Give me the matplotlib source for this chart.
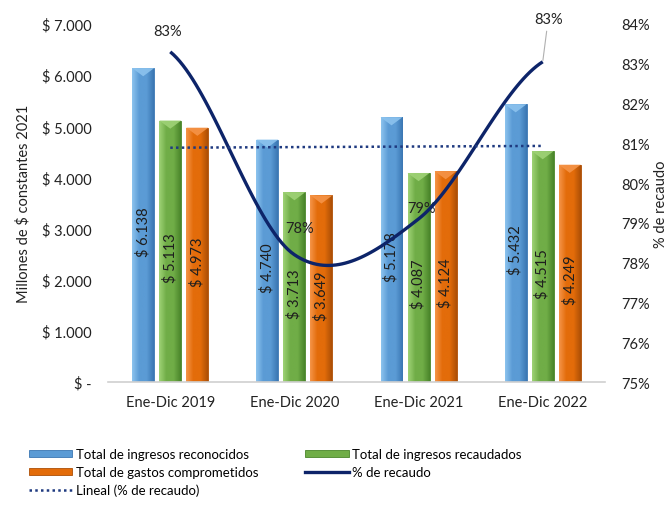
import numpy as np
import matplotlib
matplotlib.use('Agg')
import matplotlib.pyplot as plt
from matplotlib.colors import LinearSegmentedColormap
from matplotlib.patches import Patch, Polygon
from matplotlib.lines import Line2D
from matplotlib.ticker import FuncFormatter

plt.rcParams['font.family'] = ['Lato', 'DejaVu Sans']

# datos
periodos = ['Ene-Dic 2019', 'Ene-Dic 2020', 'Ene-Dic 2021', 'Ene-Dic 2022']
ingresos_reconocidos = [6138, 4740, 5178, 5432]
ingresos_recaudados = [5113, 3713, 4087, 4515]
gastos_comprometidos = [4973, 3649, 4124, 4249]
pct_recaudo = [83.3, 78.2, 79.1, 83.05]
pct_labels = ['83%', '78%', '79%', '83%']

series = [
    ('Total de ingresos reconocidos', ingresos_reconocidos, ('#8cc3ee', '#5b9bd5', '#3b77b3')),
    ('Total de ingresos recaudados', ingresos_recaudados, ('#9fd276', '#70ad47', '#4a852a')),
    ('Total de gastos comprometidos', gastos_comprometidos, ('#f59448', '#e36c0a', '#ad4f06')),
]


def fmt_pesos(v, pos=None):
    if v == 0:
        return '$ -'
    return '$ ' + f'{v:,.0f}'.replace(',', '.')


def smooth(xs, ys, n=40):
    # curva suavizada tipo Excel (Catmull-Rom)
    xs = np.asarray(xs, float)
    ys = np.asarray(ys, float)
    m = np.zeros_like(ys)
    m[1:-1] = (ys[2:] - ys[:-2]) / 2
    m[0] = (ys[1] - ys[0]) * 0.5
    m[-1] = (ys[-1] - ys[-2]) * 0.5
    out_x, out_y = [], []
    for i in range(len(xs) - 1):
        t = np.linspace(0, 1, n)
        h00 = 2 * t**3 - 3 * t**2 + 1
        h10 = t**3 - 2 * t**2 + t
        h01 = -2 * t**3 + 3 * t**2
        h11 = t**3 - t**2
        out_x.append(xs[i] + t * (xs[i + 1] - xs[i]))
        out_y.append(h00 * ys[i] + h10 * m[i] + h01 * ys[i + 1] + h11 * m[i + 1])
    return np.concatenate(out_x), np.concatenate(out_y)


fig = plt.figure(figsize=(6.72, 5.10), dpi=100)
ax = fig.add_axes([0.161, 0.249, 0.739, 0.702])

x = np.arange(len(periodos))
width = 0.177
step = 0.218
legend_handles = {}

for i, (name, vals, (c_light, c_mid, c_dark)) in enumerate(series):
    pos = x + (i - 1) * step
    bars = ax.bar(pos, vals, width, color=c_mid, edgecolor=c_dark, linewidth=0.6, zorder=2)
    cmap = LinearSegmentedColormap.from_list('g', [c_light, c_mid, c_mid, c_dark])
    grad = np.linspace(0, 1, 64).reshape(1, -1)
    for b, v in zip(bars, vals):
        bx, bw = b.get_x(), b.get_width()
        im = ax.imshow(grad, cmap=cmap, extent=[bx, bx + bw, 0, v], aspect='auto', zorder=2.1)
        im.set_clip_path(b)
        # bisel superior
        tri = Polygon([[bx, v], [bx + bw, v], [bx + bw / 2, v - 160]], closed=True,
                      facecolor=c_light, edgecolor='none', alpha=0.9, zorder=2.2)
        ax.add_patch(tri)
        ax.text(bx + bw / 2, v / 2 - 120, fmt_pesos(v), rotation=90, ha='center', va='center',
                fontsize=10.5, color='#1e1e1e', zorder=3)
    legend_handles[name] = Patch(facecolor=c_mid, edgecolor=c_dark, linewidth=0.6)

ax.set_xlim(-0.5, 3.5)
ax.set_ylim(0, 7000)
ax.set_yticks(np.arange(0, 7001, 1000))
ax.yaxis.set_major_formatter(FuncFormatter(fmt_pesos))
ax.set_xticks(x)
ax.set_xticklabels(periodos)
ax.tick_params(axis='y', length=0, pad=12, labelsize=10.5, colors='#222222')
ax.tick_params(axis='x', length=0, pad=9, labelsize=10.5, colors='#222222')
for s in ['top', 'left', 'right']:
    ax.spines[s].set_visible(False)
ax.spines['bottom'].set_color('#d0d0d0')
ax.spines['bottom'].set_linewidth(1.2)
ax.set_ylabel('Millones de $ constantes 2021', fontsize=10.5, color='#222222', labelpad=8)

# eje secundario
ax2 = ax.twinx()
ax2.set_ylim(75, 84)
ax2.set_yticks(np.arange(75, 84.1, 1))
ax2.yaxis.set_major_formatter(FuncFormatter(lambda v, p: f'{v:.0f}%'))
ax2.tick_params(axis='y', length=0, pad=12, labelsize=10.5, colors='#222222')
for s in ['top', 'left', 'right', 'bottom']:
    ax2.spines[s].set_visible(False)
ax2.set_ylabel('% de recaudo', fontsize=10.5, color='#222222', labelpad=3)

sx, sy = smooth(x, pct_recaudo)
ax2.plot(sx, sy, color='#0d2469', lw=2.4, zorder=4, solid_capstyle='butt')

coef = np.polyfit(x, pct_recaudo, 1)
ax2.plot(x[[0, -1]], np.polyval(coef, x[[0, -1]]), color='#1f3a80', lw=1.8,
         linestyle=(0, (1, 1.3)), zorder=4)

offsets = [(-2, 10), (4, 14), (2, 3), (4, 26)]
for xi, yi, lab, off in zip(x, pct_recaudo, pct_labels, offsets):
    props = None
    if off[1] > 20:
        props = dict(arrowstyle='-', color='#b0b0b0', lw=0.8, shrinkA=2, shrinkB=1)
    ax2.annotate(lab, (xi, yi), xytext=off, textcoords='offset points', ha='center',
                 va='bottom', fontsize=10.5, color='#222222', arrowprops=props)

h_line = Line2D([], [], color='#0d2469', lw=2.4)
h_trend = Line2D([], [], color='#1f3a80', lw=1.8, linestyle=(0, (1, 1.3)))
handles = [legend_handles['Total de ingresos reconocidos'],
           legend_handles['Total de gastos comprometidos'], h_trend,
           legend_handles['Total de ingresos recaudados'], h_line]
labels = ['Total de ingresos reconocidos', 'Total de gastos comprometidos',
          'Lineal (% de recaudo)', 'Total de ingresos recaudados', '% de recaudo']
fig.legend(handles, labels, loc='upper left', bbox_to_anchor=(0.035, 0.13), ncol=2,
           frameon=False, fontsize=9.5, handlelength=3.3, handleheight=0.45,
           handletextpad=0.3, columnspacing=3.5, labelspacing=0.45, borderaxespad=0)

fig.savefig('out.png', dpi=100)
